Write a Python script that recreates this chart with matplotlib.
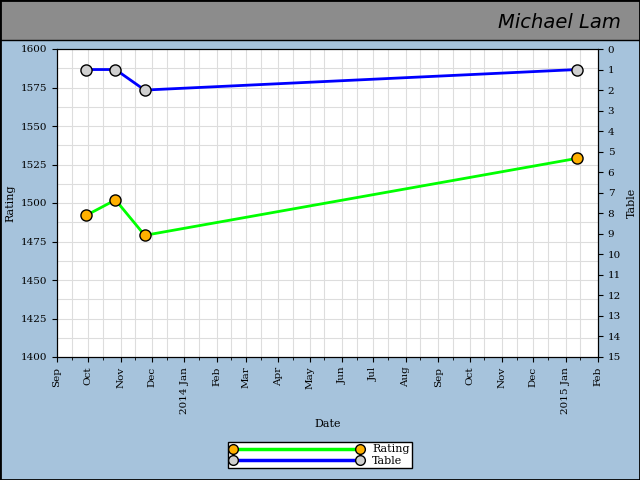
import matplotlib
matplotlib.use("Agg")
import matplotlib.pyplot as plt
import matplotlib.dates as mdates
from matplotlib.lines import Line2D
import datetime as dt

dates = [dt.date(2013, 9, 29), dt.date(2013, 10, 27), dt.date(2013, 11, 24), dt.date(2015, 1, 12)]
rating = [1492, 1502, 1479, 1529]
table = [1, 1, 2, 1]

plt.rcParams['font.family'] = 'DejaVu Serif'
fig = plt.figure(figsize=(6.4, 4.8), dpi=100)
fig.patch.set_facecolor('#a6c3dc')
fig.add_artist(plt.Rectangle((0, 1 - 40/480), 1, 40/480, transform=fig.transFigure,
                             facecolor='#8c8c8c', edgecolor='black', lw=1))
fig.add_artist(plt.Rectangle((0, 0), 1, 1, transform=fig.transFigure,
                             facecolor='none', edgecolor='black', lw=2))
fig.text(0.97, 1 - 22/480, 'Michael Lam', ha='right', va='center', fontsize=14,
         family='DejaVu Sans', fontstyle='italic', fontweight='light')

ax = fig.add_axes([57/640, 1 - 357/480, (598-57)/640, (357-49)/480])
ax.set_facecolor('white')
ax.plot(dates, rating, color='#00ff00', lw=2, marker='o', ms=8, mfc='#ffb000', mec='black', zorder=3)
ax.set_ylim(1400, 1600)
ax.set_yticks(range(1400, 1601, 25))
ax.set_ylabel('Rating', fontsize=8)
ax.set_xlabel('Date', fontsize=8)
ax.set_xlim(dt.date(2013, 9, 1), dt.date(2015, 2, 1))
ax.xaxis.set_major_locator(mdates.MonthLocator())
ax.xaxis.set_minor_locator(mdates.MonthLocator(bymonthday=15))
labels = ['Sep', 'Oct', 'Nov', 'Dec', '2014 Jan', 'Feb', 'Mar', 'Apr', 'May', 'Jun', 'Jul', 'Aug',
          'Sep', 'Oct', 'Nov', 'Dec', '2015 Jan', 'Feb']
ax.set_xticks(ax.get_xticks())
ax.set_xticklabels(labels, rotation=90, fontsize=7.5)
ax.tick_params(labelsize=7.5)
ax.grid(True, which='both', axis='x', color='#dddddd', lw=0.8)
ax.grid(True, which='major', axis='y', color='#dddddd', lw=0.8)
for y in range(1400, 1600, 25):
    ax.axhline(y + 12.5, color='#dddddd', lw=0.8, zorder=0)
ax.set_axisbelow(True)

ax2 = ax.twinx()
ax2.plot(dates, table, color='#0000ff', lw=2, marker='o', ms=8, mfc='#d0d0d0', mec='black', zorder=3)
ax2.set_ylim(15, 0)
ax2.set_yticks(range(0, 16))
ax2.tick_params(labelsize=7.5)
ax2.set_ylabel('Table', fontsize=8)

handles = [Line2D([], [], color='#00ff00', lw=2.5, marker='o', ms=7, mfc='#ffb000', mec='black'),
           Line2D([], [], color='#0000ff', lw=2.5, marker='o', ms=7, mfc='#d0d0d0', mec='black')]
leg = fig.legend(handles, ['Rating', 'Table'], loc='center', bbox_to_anchor=(0.5, 1 - 455/480),
                 fontsize=8, frameon=True, fancybox=False, edgecolor='black', handlelength=12,
                 borderpad=0.2, labelspacing=0.1, numpoints=2, framealpha=1)
leg.get_frame().set_linewidth(1)
fig.savefig('out.png', dpi=100, facecolor=fig.get_facecolor())
